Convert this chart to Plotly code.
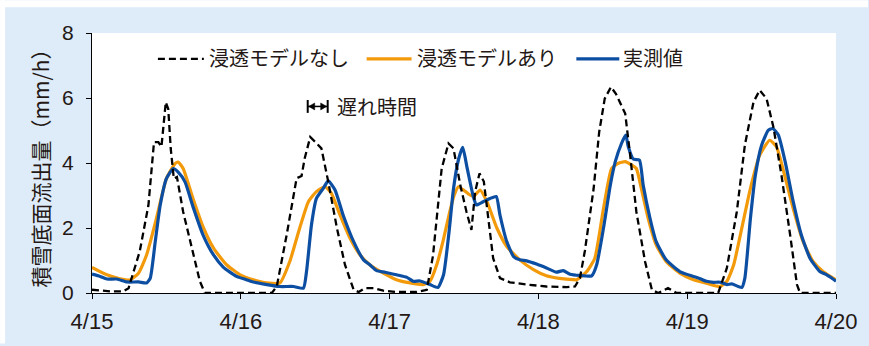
import plotly.graph_objects as go

# Hours elapsed since 4/15 00:00 and snowpack-base outflow (mm/h)
hours_none = [0, 3.0, 5.0, 5.9, 7.7, 9.1, 10.0, 10.7, 11.2, 11.9, 12.3, 12.7, 13.2, 13.7, 14.7, 16.1,
              17.4, 18.2, 29.0, 29.8, 31.4, 33.0, 33.8, 34.3, 35.2, 36.0, 37.0, 38.1, 39.5, 40.8,
              42.2, 43.0, 44.0, 45.4, 47.0, 49.1, 52.4, 54.0, 55.0, 56.4, 57.5, 58.3, 59.4, 60.4,
              61.2, 61.8, 62.5, 63.2, 63.9, 64.7, 65.8, 67.4, 70.1, 73.3, 76.6, 77.9, 78.7, 79.5,
              80.9, 81.8, 82.7, 83.7, 84.5, 85.4, 86.0, 86.8, 87.8, 89.2, 90.3, 91.3, 92.9, 94.3,
              101.0, 102.4, 104.0, 105.3, 106.7, 107.7, 108.8, 109.9, 111.2, 112.6, 113.7, 114.2, 120]
flow_none = [0.1, 0.05, 0.05, 0.15, 1.28, 2.7, 4.64, 4.64, 4.5, 5.87, 5.66, 4.44, 3.52, 3.57, 2.5, 1.38,
             0.36, 0.0, 0.0, 0.2, 1.79, 3.53, 3.6, 4.14, 4.8, 4.65, 4.45, 3.43, 2.0, 0.87,
             0.1, 0.03, 0.15, 0.15, 0.07, 0.03, 0.03, 0.1, 1.15, 3.83, 4.6, 4.45, 3.32, 2.5,
             1.94, 3.12, 3.68, 3.43, 2.3, 1.07, 0.46, 0.33, 0.26, 0.2, 0.18, 0.2, 0.46, 1.3,
             3.2, 4.95, 5.98, 6.34, 6.13, 5.73, 5.52, 4.24, 2.5, 0.97, 0.1, 0.0, 0.15, 0.0,
             0.0, 0.77, 2.5, 4.55, 5.88, 6.24, 5.98, 5.11, 3.63, 1.79, 0.26, 0.0, 0.0]

hours_model = [0, 2.4, 4.5, 6.1, 7.5, 8.8, 10.4, 12.0, 13.4, 13.9, 14.7, 16.3, 17.9, 19.6, 21.7, 23.9,
               26.0, 28.2, 30.3, 31.9, 33.5, 34.9, 36.2, 37.6, 38.6, 40.0, 41.6, 43.2, 44.8, 47.0,
               49.1, 51.3, 53.4, 54.5, 55.6, 56.6, 57.7, 58.4, 59.1, 59.9, 60.7, 61.5, 62.6, 63.7,
               65.3, 66.9, 69.0, 71.2, 73.3, 75.4, 77.6, 78.2, 79.8, 81.1, 82.5, 83.8, 84.9, 86.0,
               87.0, 87.8, 88.6, 89.7, 91.0, 92.6, 94.8, 97.0, 99.1, 101.3, 102.4, 103.5, 104.8,
               106.2, 107.7, 109.3, 110.4, 111.7, 113.1, 114.7, 116.3, 117.9, 120]
flow_model = [0.79, 0.56, 0.44, 0.4, 0.61, 1.17, 2.3, 3.52, 3.98, 4.03, 3.83, 2.9, 2.04, 1.38, 0.87, 0.56,
              0.41, 0.31, 0.31, 0.97, 2.0, 2.81, 3.12, 3.27, 3.07, 2.4, 1.69, 1.18, 0.87, 0.61,
              0.41, 0.31, 0.26, 0.36, 0.87, 1.58, 2.5, 3.0, 3.27, 3.17, 3.05, 2.97, 3.17, 2.81,
              2.0, 1.43, 1.02, 0.72, 0.53, 0.45, 0.41, 0.41, 0.66, 1.07, 2.6, 3.83, 3.99, 4.04,
              3.94, 3.83, 3.22, 2.3, 1.48, 0.97, 0.61, 0.41, 0.3, 0.2, 0.36, 0.87, 1.99,
              3.22, 4.24, 4.7, 4.5, 3.63, 2.6, 1.58, 0.97, 0.66, 0.4]

hours_obs = [0, 1.3, 2.4, 4.0, 5.6, 7.5, 8.8, 9.4, 10.2, 11.0, 12.0, 13.1, 13.9, 15.0, 16.3, 17.9,
             19.6, 21.2, 23.3, 24.9, 26.0, 28.2, 30.3, 32.5, 34.1, 34.6, 35.4, 36.2, 37.3, 38.1,
             39.2, 40.5, 42.2, 43.8, 44.8, 45.9, 47.3, 49.1, 50.8, 51.8, 52.9, 54.5, 55.8, 56.7,
             57.6, 58.3, 59.1, 59.8, 60.5, 61.5, 62.0, 63.1, 64.2, 65.2, 65.8, 66.9, 68.0, 69.0,
             70.1, 71.7, 73.3, 74.9, 76.0, 77.1, 78.7, 80.6, 81.4, 82.5, 83.6, 84.4, 85.4, 86.1,
             86.5, 87.3, 88.3, 88.9, 90.0, 91.0, 92.6, 94.8, 97.0, 98.1, 99.1, 100.2, 101.3, 102.4,
             103.2, 104.8, 105.3, 106.2, 107.0, 108.0, 109.1, 109.8, 110.7, 111.8, 113.1, 114.4,
             115.8, 117.4, 118.5, 119.3, 120]
flow_obs = [0.58, 0.51, 0.43, 0.43, 0.34, 0.34, 0.31, 0.46, 1.58, 2.7, 3.52, 3.83, 3.72, 3.42, 2.65, 1.79,
            1.17, 0.79, 0.51, 0.41, 0.34, 0.26, 0.2, 0.2, 0.15, 0.66, 2.1, 2.91, 3.22, 3.45,
            3.17, 2.4, 1.58, 1.02, 0.87, 0.69, 0.64, 0.56, 0.48, 0.36, 0.37, 0.26, 0.17, 0.56,
            1.9, 3.2, 4.1, 4.48, 3.85, 2.97, 2.71, 2.81, 2.91, 2.97, 2.4, 1.58, 1.12, 1.02,
            0.99, 0.89, 0.77, 0.64, 0.69, 0.58, 0.54, 0.53, 0.87, 2.0, 3.32, 4.04, 4.6, 4.86,
            4.5, 4.12, 4.09, 3.32, 2.3, 1.58, 1.02, 0.66, 0.51, 0.44, 0.36, 0.33, 0.33, 0.26,
            0.28, 0.17, 0.46, 2.3, 3.63, 4.55, 5.01, 5.06, 4.86, 4.04, 2.81, 1.79,
            1.07, 0.66, 0.56, 0.46, 0.36]

day_ticks = [0, 24, 48, 72, 96, 120]
day_labels = ["4/15", "4/16", "4/17", "4/18", "4/19", "4/20"]
flow_ticks = [0, 2, 4, 6, 8]

series_names = ["浸透モデルなし", "浸透モデルあり", "実測値"]
delay_label = "遅れ時間"
y_title = "積雪底面流出量（mm/h）"

ORANGE = "#F39A0B"
BLUE = "#0C4EA2"
BLACK = "#000000"
PANEL = "#DEEBF8"
TEXT = "#231815"
DASH = "7px,4px"

W, H = 869, 346
L, R, T, B = 92, 32, 33, 51
PW, PH = W - L - R, H - T - B


def fx(px):
    return (px - L) / PW


def fy(py):
    return (H - B - py) / PH


fig = go.Figure()
fig.add_trace(go.Scatter(x=hours_model, y=flow_model, mode="lines", name=series_names[1],
                         line=dict(color=ORANGE, width=3.2, shape="spline", smoothing=0.5)))
fig.add_trace(go.Scatter(x=hours_obs, y=flow_obs, mode="lines", name=series_names[2],
                         line=dict(color=BLUE, width=3.2, shape="spline", smoothing=0.5)))
fig.add_trace(go.Scatter(x=hours_none, y=flow_none, mode="lines", name=series_names[0],
                         line=dict(color=BLACK, width=2.3, dash=DASH)))

shapes = [
    # white frame strips around the tinted panel
    dict(type="rect", xref="paper", yref="paper", x0=fx(0), x1=fx(W), y0=fy(7), y1=fy(0),
         fillcolor="white", line_width=0, layer="below"),
    dict(type="rect", xref="paper", yref="paper", x0=fx(0), x1=fx(5), y0=fy(H), y1=fy(0),
         fillcolor="white", line_width=0, layer="below"),
]
annotations = []

# legend row drawn inside the plot area
legend_items = [
    (series_names[0], BLACK, 2.3, DASH, 158, 204, 207),
    (series_names[1], ORANGE, 3.2, "solid", 367, 412, 415),
    (series_names[2], BLUE, 3.2, "solid", 577, 620, 622),
]
LEG_Y = 58
for name, color, width, dash, s0, s1, tx in legend_items:
    shapes.append(dict(type="line", xref="paper", yref="paper", x0=fx(s0), x1=fx(s1),
                       y0=fy(LEG_Y + 1), y1=fy(LEG_Y + 1),
                       line=dict(color=color, width=width, dash=dash)))
    annotations.append(dict(xref="paper", yref="paper", x=fx(tx), y=fy(LEG_Y), text=name,
                            showarrow=False, xanchor="left", yanchor="middle",
                            font=dict(family="Noto Sans CJK JP", size=20, color=TEXT)))

# delay-time marker: |<->| followed by its label
DY = 107
bar_l, bar_r = 308, 328
shapes += [
    dict(type="line", xref="paper", yref="paper", x0=fx(bar_l), x1=fx(bar_l),
         y0=fy(DY - 6.5), y1=fy(DY + 6.5), line=dict(color=BLACK, width=2)),
    dict(type="line", xref="paper", yref="paper", x0=fx(bar_r), x1=fx(bar_r),
         y0=fy(DY - 6.5), y1=fy(DY + 6.5), line=dict(color=BLACK, width=2)),
    dict(type="line", xref="paper", yref="paper", x0=fx(bar_l), x1=fx(bar_r),
         y0=fy(DY), y1=fy(DY), line=dict(color=BLACK, width=1.5)),
    dict(type="path", xref="paper", yref="paper",
         path=f"M {fx(bar_l + 1)} {fy(DY)} L {fx(bar_l + 7)} {fy(DY - 3.5)} L {fx(bar_l + 7)} {fy(DY + 3.5)} Z",
         fillcolor=BLACK, line=dict(color=BLACK, width=0.5)),
    dict(type="path", xref="paper", yref="paper",
         path=f"M {fx(bar_r - 1)} {fy(DY)} L {fx(bar_r - 7)} {fy(DY - 3.5)} L {fx(bar_r - 7)} {fy(DY + 3.5)} Z",
         fillcolor=BLACK, line=dict(color=BLACK, width=0.5)),
]
annotations.append(dict(xref="paper", yref="paper", x=fx(335), y=fy(DY), text=delay_label,
                        showarrow=False, xanchor="left", yanchor="middle",
                        font=dict(family="Noto Sans CJK JP", size=20, color=TEXT)))

fig.update_layout(
    width=W, height=H,
    margin=dict(l=L, r=R, t=T, b=B),
    paper_bgcolor=PANEL, plot_bgcolor="white",
    showlegend=False,
    shapes=shapes, annotations=annotations,
    font=dict(family="Liberation Sans, Arial, sans-serif", color=TEXT),
)
fig.update_xaxes(
    range=[0, 120], tickvals=day_ticks, ticktext=day_labels,
    showline=True, linecolor=BLACK, linewidth=1, showgrid=False, zeroline=False,
    ticks="outside", ticklen=5, tickcolor=BLACK, tickwidth=1,
    tickfont=dict(size=22, color=TEXT), ticklabelstandoff=4,
)
fig.update_yaxes(
    range=[0, 8], tickvals=flow_ticks,
    showline=True, linecolor=BLACK, linewidth=1, showgrid=False, zeroline=False,
    ticks="outside", ticklen=5, tickcolor=BLACK, tickwidth=1,
    tickfont=dict(size=21, color=TEXT), ticklabelstandoff=8,
    title=dict(text=y_title, standoff=6,
               font=dict(family="Noto Sans CJK JP", size=21, color=TEXT)),
)

fig.write_html("out.html")
